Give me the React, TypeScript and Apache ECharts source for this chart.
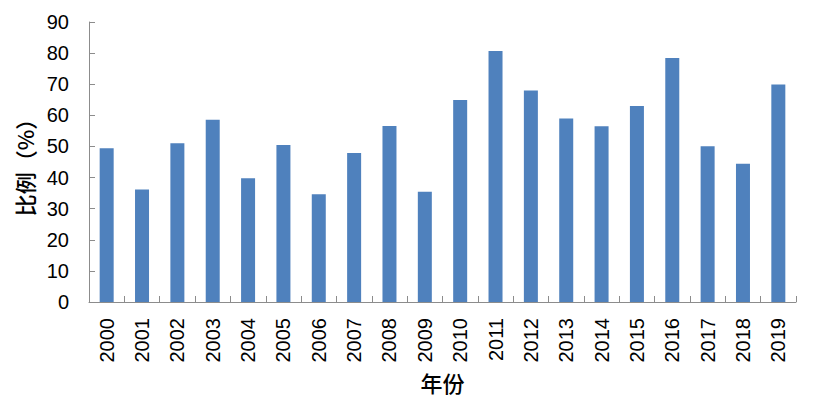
import React, { useEffect, useRef } from "react";
import * as echarts from "echarts";

const years = ["2000","2001","2002","2003","2004","2005","2006","2007","2008","2009","2010","2011","2012","2013","2014","2015","2016","2017","2018","2019"];
const ratios = [49.4, 36.2, 51.0, 58.6, 39.8, 50.5, 34.6, 47.9, 56.6, 35.4, 64.9, 80.7, 68.0, 59.0, 56.5, 63.0, 78.4, 50.1, 44.4, 69.9];
const yTicks = { min: 0, max: 90, interval: 10 };

export default function App() {
  const ref = useRef<HTMLDivElement>(null);
  useEffect(() => {
    if (!ref.current) return;
    const chart = echarts.init(ref.current, null, { renderer: "svg" });
    const axisColor = "#8c8c8c";
    chart.setOption({
      animation: false,
      grid: { left: 89, right: 35, top: 22, bottom: 103 },
      xAxis: {
        type: "category",
        data: years,
        name: "年份",
        nameLocation: "middle",
        nameGap: 69,
        nameTextStyle: { fontFamily: "Noto Sans CJK SC", fontSize: 22, fontWeight: 500, color: "#000" },
        axisLine: { show: true, lineStyle: { color: axisColor, width: 1 } },
        axisTick: { show: true, inside: true, length: 6, lineStyle: { color: axisColor } },
        axisLabel: { rotate: 90, margin: 16, fontFamily: "Liberation Sans", fontSize: 20, color: "#000" },
      },
      yAxis: {
        type: "value",
        min: yTicks.min,
        max: yTicks.max,
        interval: yTicks.interval,
        name: "比例（%）",
        nameLocation: "middle",
        nameGap: 54,
        nameRotate: 90,
        nameTextStyle: { fontFamily: "Noto Sans CJK SC", fontSize: 22, fontWeight: 500, color: "#000" },
        axisLine: { show: true, lineStyle: { color: axisColor, width: 1 } },
        axisTick: { show: true, inside: true, length: 6, lineStyle: { color: axisColor } },
        axisLabel: { margin: 20, fontFamily: "Liberation Sans", fontSize: 20, color: "#000" },
        splitLine: { show: false },
      },
      series: [
        {
          type: "bar",
          data: ratios,
          barWidth: 14,
          itemStyle: { color: "#4F81BD" },
        },
      ],
    });
    return () => chart.dispose();
  }, []);
  return <div ref={ref} style={{ width: 831, height: 405, position: "absolute", left: 0, top: 0 }} />;
}
